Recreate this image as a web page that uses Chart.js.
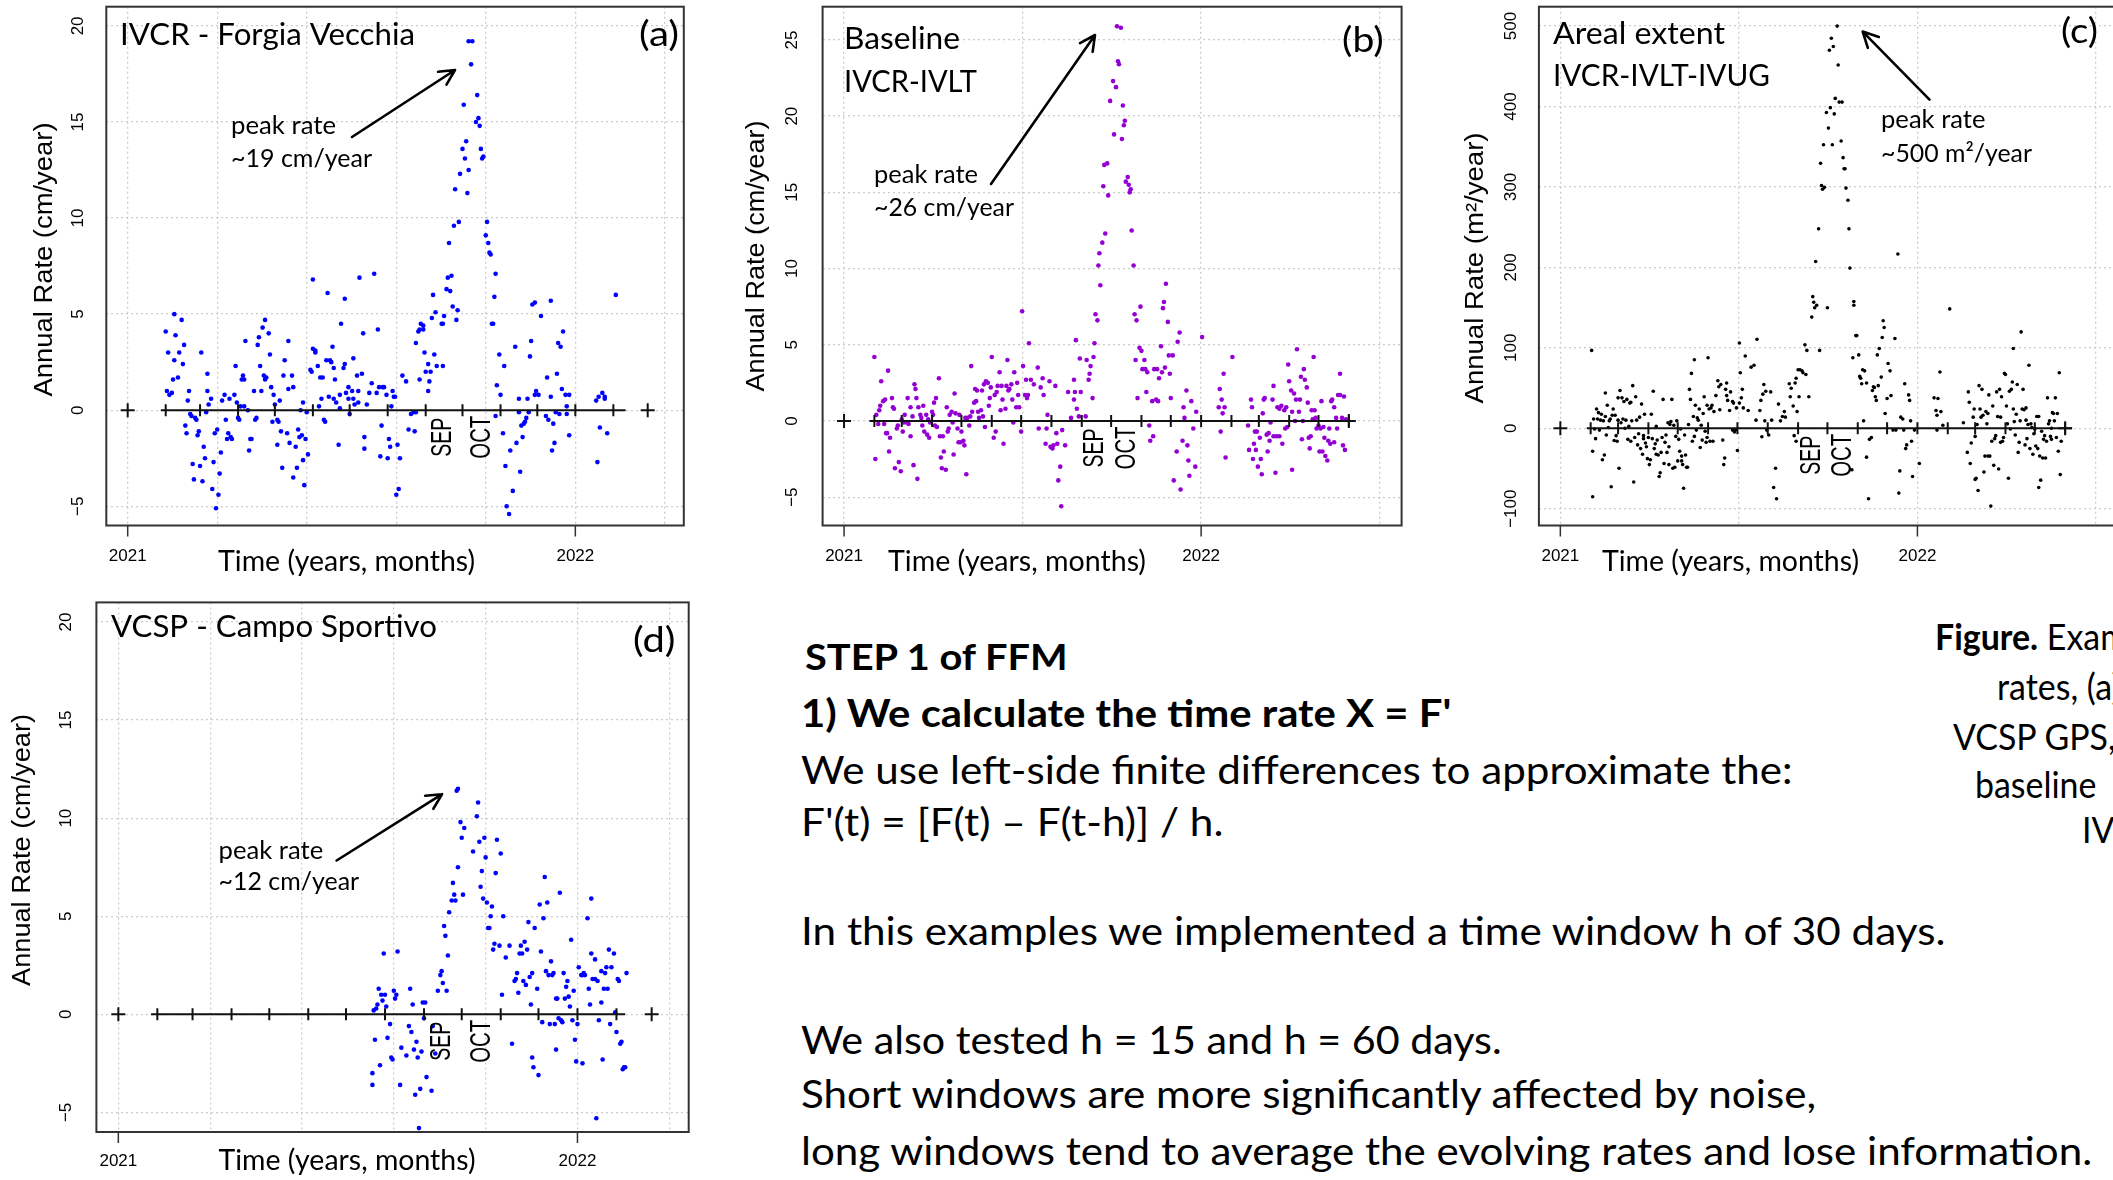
<!DOCTYPE html>
<html>
<head>
<meta charset="utf-8">
<script src="https://cdn.jsdelivr.net/npm/chart.js@4.4.1/dist/chart.umd.min.js"></script>
<style>
  html, body { margin: 0; padding: 0; background: #fff; }
  body { position: relative; width: 2113px; height: 1180px; overflow: hidden; }
  canvas { position: absolute; }
  .t { position: absolute; white-space: nowrap; font-family: Lato, "Open Sans", sans-serif; font-size: 38px; line-height: 1.2; color: #000; transform-origin: 0 0; }
  .cap { font-size: 37px; }
  .b { font-weight: bold; }
  .bl { display: inline-block; width: 0; height: 0; }
</style>
</head>
<body>
<canvas id="pa" width="720" height="590" style="left:0px;top:0px"></canvas>
<canvas id="pb" width="720" height="590" style="left:720px;top:0px"></canvas>
<canvas id="pc" width="690" height="590" style="left:1440px;top:0px"></canvas>
<canvas id="pd" width="720" height="590" style="left:0px;top:590px"></canvas>

<div class="t b" data-x="804.5" data-b="670" data-w="263" style="font-size:36px">STEP 1 of FFM</div>
<div class="t b" data-x="800.5" data-b="727" data-w="650">1) We calculate the time rate X = F'</div>
<div class="t" data-x="800.5" data-b="784" data-w="992">We use left-side finite differences to approximate the:</div>
<div class="t" data-x="800.5" data-b="836" data-w="423">F'(t) = [F(t) – F(t-h)] / h.</div>
<div class="t" data-x="800.5" data-b="945" data-w="1144">In this examples we implemented a time window h of 30 days.</div>
<div class="t" data-x="800.5" data-b="1054" data-w="701">We also tested h = 15 and h = 60 days.</div>
<div class="t" data-x="800.5" data-b="1108" data-w="1015">Short windows are more significantly affected by noise,</div>
<div class="t" data-x="800.5" data-b="1165" data-w="1291">long windows tend to average the evolving rates and lose information.</div>

<div class="t cap" data-x="1935" data-b="650"><b>Figure.</b> Examples</div>
<div class="t cap" data-x="1997" data-b="700">rates, (a)</div>
<div class="t cap" data-x="1953" data-b="750">VCSP GPS,</div>
<div class="t cap" id="capref" data-x="1975" data-b="798" data-w="121">baseline</div>
<div class="t cap" data-x="2082" data-b="843">IVCR</div>

<script>
// time axis: days since 2021-01-01
const monthStarts = [31, 59, 90, 120, 151, 181, 212, 243, 273, 304, 334, 365, 396, 424, 455, 485, 516];
const yearTicks = [0, 365];
const yearLabels = ['2021', '2022'];
const monthNames = ['SEP', 'OCT'];
const monthMidDays = [257, 289];

// (a) IVCR - Forgia Vecchia, cm/year
const ivcrDays = [
  31,33,32,34,36,37,38,39,38,41, 42,44,45,46,47,48,49,50,51,52,
  53,54,55,56,57,58,59,60,61,62, 63,64,65,65,66,68,69,70,71,72,
  73,74,75,76,77,79,80,81,82,83, 84,85,87,88,89,90,91,92,93,94,
  95,95,96,98,99,100,101,103,104,105, 106,107,108,109,110,111,112,112,113,115,
  116,117,118,119,120,122,122,123,124,125, 126,127,128,130,131,131,132,134,135,135,
  137,138,139,140,141,142,143,143,144,145, 146,147,149,150,151,151,153,153,155,156,
  157,158,159,160,161,162,163,164,165,166, 167,168,168,169,170,172,173,173,174,176,
  177,177,178,180,180,181,183,184,184,185, 187,188,188,189,191,192,193,193,195,197,
  199,201,203,204,205,206,207,208,209,211, 212,213,214,215,216,217,218,219,220,221,
  222,224,227,229,231,233,234,235,235,237, 238,238,239,241,241,242,243,245,245,246,
  247,248,249,250,251,252,256,257,257,258, 260,261,262,263,264,265,266,267,268,269,
  270,271,273,274,275,276,277,278,278,280, 281,284,285,286,287,288,289,290,292,293,
  294,295,296,297,298,299,300,300,301,303, 304,306,307,308,309,311,312,314,316,317,
  319,319,320,321,322,323,324,325,326,327, 328,329,330,332,332,333,335,337,341,342,
  343,345,345,346,347,348,349,350,351,352, 353,354,355,357,358,358,360,360,382,383,
  384,385,387,389,391,389,398
];
const ivcrRate = [
  4.1,3.0,1.0,0.8,0.9,1.6,5.0,3.9,2.6,1.7, 3.0,4.7,2.4,3.4,-0.8,-1.2,0.5,1.0,-0.2,-0.3,
  -2.8,-3.6,-0.4,-0.5,-1.3,-1.1,-2.9,3.0,-3.7,-1.9, -2.5,-0.1,1.0,1.9,0.3,0.6,-4.1,-2.7,-1.2,-5.1,
  -1.0,-4.4,-3.3,-2.2,0.5,0.8,-0.5,-1.5,-1.2,0.6, -1.4,-1.5,0.8,2.3,0.4,-0.4,-0.5,0.2,1.6,1.8,
  0.2,1.6,3.6,0.0,-2.1,-1.5,-1.5,1.0,-0.5,-0.4, 3.4,3.8,2.3,1.0,4.3,1.8,4.7,1.6,1.7,4.0,
  2.9,1.2,-0.6,0.8,0.3,-1.8,-0.5,-0.6,0.5,-1.1, -3.0,1.8,2.6,-1.2,1.1,3.6,-1.7,1.8,1.2,-3.5,
  -1.9,-3.0,-1.0,-1.4,0.0,-1.3,-2.6,0.4,-3.9,-1.5, -0.1,-2.3,2.1,2.0,3.2,6.8,3.1,3.0,2.3,0.2,
  1.7,0.6,1.7,-0.5,-0.6,2.6,6.1,0.7,2.6,2.5, 3.3,2.2,0.6,1.6,0.4,-1.8,0.8,0.1,4.5,2.2,
  2.4,5.8,0.9,1.2,0.6,-0.2,1.0,2.7,0.6,0.3, 1.8,0.4,1.0,6.9,1.9,4.0,-2.0,-1.4,0.3,0.9,
  1.4,7.1,0.9,4.2,1.2,-2.4,-0.8,1.2,1.2,0.8, -2.5,-1.5,-1.9,0.2,1.0,0.7,0.7,-4.4,-1.8,-4.1,
  -2.5,1.8,1.5,-1.0,-0.2,-0.1,-1.1,-0.1,3.5,4.1, 1.6,4.2,4.5,4.4,4.2,3.0,2.0,1.0,2.4,1.5,
  2.0,4.8,6.0,2.9,5.1,2.3,4.5,2.3,4.5,4.9, 6.3,6.9,8.7,6.2,7.0,5.4,9.6,11.5,4.7,5.2,
  9.8,12.3,13.6,15.9,13.1,14.0,11.3,12.5,19.2,18.0, 19.2,15.0,16.4,15.2,14.8,13.6,13.1,13.2,9.1,9.8,
  8.7,8.2,8.1,4.5,4.5,5.9,7.1,-0.3,1.3,2.9, 0.8,-1.2,2.3,-2.9,-5.0,-5.4,-2.1,-4.2,3.3,-1.7,
  0.6,-0.1,-3.2,-0.8,-1.4,-0.7,-0.6,-0.4,0.6,-0.1, 2.8,3.6,5.5,5.6,0.8,1.0,0.8,4.9,-0.3,1.7,
  -0.5,5.7,0.7,-2.1,-0.7,-1.7,-0.1,1.9,3.5,-0.2, 3.3,1.1,4.1,0.8,0.2,-0.2,-1.3,0.8,0.5,-2.7,
  0.7,-0.9,0.9,0.7,-1.2,0.6,6.0
];

// (b) baseline IVCR-IVLT, cm/year
const baseDays = [
  31,32,33,35,36,37,38,40,41,42, 43,44,45,46,47,49,50,51,52,54,
  55,56,58,59,60,61,62,64,65,66, 68,68,70,71,72,73,74,75,76,78,
  79,80,81,82,84,85,86,87,88,90, 91,92,93,94,95,97,98,99,100,101,
  102,104,105,106,107,108,110,111,112,113, 114,116,117,118,119,120,122,123,124,125,
  126,128,129,130,131,133,134,135,136,137, 138,140,141,142,143,144,145,147,148,149,
  150,151,153,154,155,156,157,159,160,161, 162,163,165,166,167,168,169,171,172,173,
  174,176,177,178,179,181,182,183,185,186, 187,188,189,191,194,198,199,201,203,204,
  206,207,208,210,211,213,214,216,217,218, 219,221,222,223,226,229,232,235,235,236,
  237,238,240,241,242,247,248,250,251,252, 254,255,256,257,259,260,261,262,264,265,
  266,267,269,270,272,275,276,278,279,280, 281,283,284,285,286,287,288,290,291,292,
  293,294,296,297,298,299,300,302,303,304, 305,307,308,309,310,312,313,315,316,317,
  319,320,321,322,324,325,326,327,328,329, 331,332,333,334,336,337,340,341,343,344,
  346,347,348,350,351,352,353,355,357,359, 360,366,383,384,385,386,387,388,389,390,
  397,413,414,416,417,418,419,420,421,422, 423,425,426,427,428,429,430,432,433,434,
  435,436,438,439,439,441,442,443,445,445, 447,448,450,451,452,453,454,455,457,458,
  458,460,461,462,463,465,466,467,468,469, 470,471,473,474,475,476,477,478,479,480,
  481,482,483,485,486,487,488,489,490,491, 492,494,495,496,497,498,499,501,501,503,
  504,505,507,507,509,510,511,512,513
];
const baseRate = [
  4.2,-2.5,0.4,-0.2,0.7,1.0,2.6,1.3,-0.2,1.4, -0.8,-0.8,3.3,-2.0,-1.1,1.5,0.9,0.8,-3.1,-0.5,
  -0.3,-2.7,-3.3,0.1,-0.7,-0.1,0.4,-0.1,1.5,-0.2, 0.9,-1.0,0.3,-2.9,2.4,2.1,1.5,-3.8,0.9,0.4,
  0.2,-0.3,1.0,-0.7,0.4,-0.9,0.1,-1.1,-0.1,0.6, 0.4,1.2,-0.3,1.5,-0.4,2.8,-1.0,-2.4,-3.1,-1.0,
  -2.0,-3.2,0.9,-0.7,-0.5,0.4,0.6,-0.1,-2.2,1.8, 0.5,-0.5,-1.4,0.4,-1.4,-0.7,-1.3,-1.6,0.2,-3.5,
  0.2,-0.3,0.3,3.6,0.6,1.2,2.1,1.3,2.0,0.6, 0.2,0.7,2.0,0.3,2.4,-0.4,2.6,2.5,1.0,1.5,
  2.2,4.2,-1.1,1.7,-0.7,1.9,2.3,3.2,0.7,2.3, 1.4,-1.5,0.8,2.3,4.0,2.0,2.1,2.4,1.4,-0.1,
  3.2,0.9,2.5,1.7,0.9,-0.7,7.2,3.6,1.7,2.7, 1.5,1.7,5.1,2.7,2.4,3.5,-0.5,2.2,2.8,1.7,
  -1.5,-0.5,0.4,2.6,-1.7,-1.8,-1.6,2.3,-0.8,-1.5, -3.9,-3.0,-5.6,-0.6,-1.6,1.9,0.2,2.7,1.4,1.9,
  5.3,0.8,0.3,4.1,1.9,0.3,4.0,2.7,3.1,3.6, 1.5,4.2,5.1,7.0,6.6,10.2,11.0,8.9,11.7,15.4,
  16.8,12.3,16.9,14.8,21.0,22.3,18.8,21.9,25.9,23.6, 23.4,25.8,18.5,20.7,19.4,19.7,15.7,16.0,15.5,15.0,
  15.2,12.5,10.2,7.0,4.0,6.6,1.5,4.8,7.5,4.6, 3.4,4.0,3.4,1.9,3.2,-0.3,-1.3,1.3,-1.0,3.4,
  1.4,3.4,1.3,2.8,4.9,3.2,7.4,7.8,3.5,9.0, 6.5,4.3,3.1,1.5,4.3,-3.9,-2.0,5.2,5.8,-4.5,
  -1.3,0.9,0.2,2.0,-1.6,-2.6,-3.6,1.3,-0.5,-3.0, 0.6,5.5,0.9,2.1,-0.7,1.4,0.5,3.1,0.9,-2.4,
  4.2,-0.3,-1.9,1.4,0.9,-2.5,-1.5,-0.7,-1.9,-0.7, -3.0,-1.1,-2.5,-3.5,0.5,1.4,1.5,-0.9,-2.0,-0.8,
  -1.3,-0.1,1.4,2.3,-1.0,-3.4,-1.0,0.9,-1.0,0.8, 1.0,-1.5,0.7,-0.5,0.9,-0.4,3.7,2.6,2.0,-3.2,
  0.6,1.8,0.0,1.4,4.7,0.6,1.4,2.9,-1.2,0.0, 3.4,2.7,2.2,1.2,-1.1,-1.8,-1.0,0.7,0.1,4.2,
  0.7,0.2,-0.5,-0.3,-2.0,-0.5,1.3,-2.0,-0.4,-1.1, -2.3,-2.6,-1.3,-0.5,-1.5,1.3,1.4,-1.4,0.9,0.2,
  -0.5,1.7,3.1,1.7,0.2,-1.6,1.6,-1.9,0.1
];

// (c) areal extent IVCR-IVLT-IVUG, m2/year
const areaDays = [
  32,33,33,34,35,36,37,38,39,40, 41,42,43,44,45,46,46,47,48,49,
  50,51,52,53,54,55,56,57,58,59, 59,60,61,62,63,64,65,66,67,68,
  69,70,71,72,72,73,74,75,76,77, 78,79,80,81,82,83,84,85,85,86,
  87,88,89,90,91,92,93,94,95,96, 97,98,98,99,100,101,102,103,104,105,
  106,107,108,109,110,111,111,112,113,114, 115,116,117,118,119,120,121,122,123,124,
  124,125,126,127,128,129,130,131,132,133, 134,135,136,137,137,138,139,140,141,142,
  143,144,145,146,147,148,149,150,150,151, 152,153,154,155,156,157,159,161,162,163,
  164,166,167,168,169,170,170,171,173,174, 176,176,177,178,179,180,181,183,183,184,
  185,186,187,189,192,195,198,200,201,204, 205,206,207,208,209,210,211,213,215,216,
  218,220,221,223,225,227,229,230,234,235, 236,238,239,240,241,241,242,243,244,245,
  247,248,250,251,252,254,257,258,259,260, 261,262,264,265,266,267,268,269,270,272,
  273,274,275,276,277,278,279,280,281,283, 284,285,287,288,289,290,291,292,294,295,
  296,298,299,300,300,302,303,305,306,307, 308,309,310,311,313,313,315,316,318,319,
  320,321,322,323,324,325,326,328,329,330, 331,332,334,335,337,338,340,342,343,345,
  346,347,348,350,351,352,353,354,356,357, 358,359,360,362,367,382,384,385,385,386,
  388,389,391,398,412,416,417,418,419,420, 422,423,424,424,425,426,427,428,429,430,
  431,432,433,434,435,436,437,437,438,439, 440,441,442,443,444,445,446,447,448,449,
  450,450,451,452,453,454,455,456,457,458, 459,460,461,462,463,463,464,465,466,467,
  468,469,470,471,472,473,474,475,476,476, 477,478,479,480,481,482,483,484,485,486,
  487,488,489,489,490,491,492,493,494,495, 496,497,498,499,500,501,502,502,503,504,
  505,506,507,508,509,510,511,512
];
const areaRate = [
  96.8,-85.2,-28.6,11.5,-0.9,-12.9,24.0,11.5,19.4,-2.3, 10.1,17.5,-39.2,9.2,-33.2,43.8,14.7,-8.3,28.6,0.9,
  9.2,11.5,-72.8,16.1,24.0,-15.2,16.1,-9.2,-16.1,10.1, 37.8,-49.8,47.0,6.9,37.8,11.5,33.2,0.0,10.1,35.9,
  -13.8,2.3,31.3,-16.1,32.3,9.2,53.0,-66.8,-11.5,39.2, 10.1,-20.7,-6.9,13.8,-25.3,30.0,-32.3,-12.9,-9.2,17.5,
  -18.4,-23.0,-37.8,-11.5,-45.2,-39.2,17.5,-12.9,46.1,-25.3, -19.4,-32.3,2.3,-14.7,-33.2,-59.9,-55.3,-30.0,-11.5,35.9,
  -43.8,-17.5,-8.3,-30.0,6.9,-23.0,-45.2,4.6,8.3,35.9, -49.8,3.7,-48.4,-10.1,9.2,-40.6,-13.8,-28.6,-0.9,-34.6,
  -40.6,-45.2,-74.6,-8.3,-33.2,-48.4,-48.4,4.6,48.4,35.9, 68.2,-16.1,14.7,-10.1,85.2,28.6,-2.3,12.9,10.1,24.0,
  -24.0,3.7,-14.7,18.4,39.2,-3.7,-17.5,-11.5,28.6,87.6, 24.0,-16.1,25.3,28.6,-16.1,20.7,40.6,59.0,51.6,23.0,
  54.4,-14.7,-45.2,-36.9,48.4,56.2,40.6,34.6,22.1,45.2, 33.2,-2.3,31.3,-4.6,-2.3,25.3,-27.6,31.3,106.0,69.1,
  37.8,48.4,25.3,89.9,22.1,76.0,78.3,10.1,110.6,22.1, 34.6,-10.6,42.4,54.4,9.2,46.1,-2.3,-8.3,45.2,10.1,
  -73.7,-49.8,-87.6,30.0,9.2,14.7,20.7,13.8,55.3,39.2, 49.8,27.6,-9.2,56.2,62.2,-16.1,20.7,72.8,39.2,72.8,
  71.4,69.1,103.7,66.8,96.8,39.2,138.2,163.6,156.7,149.8, 207.4,153.0,247.9,96.8,329.5,301.8,297.2,352.5,299.5,392.6,
  149.8,373.2,470.0,398.6,484.8,352.5,474.6,390.8,410.1,500.0, 451.6,405.5,357.1,405.5,336.4,322.6,322.6,298.6,283.4,247.9,
  199.1,-51.6,87.6,157.6,153.0,115.2,115.2,91.2,64.5,62.2, 55.3,72.8,9.2,71.4,56.2,-35.9,-87.6,-13.8,-11.5,47.0,
  51.6,50.7,39.2,34.6,91.2,53.0,99.1,63.6,112.9,133.6, 125.3,18.4,36.9,80.6,71.4,40.6,-2.3,111.5,-2.3,216.6,
  -80.6,-53.0,13.8,11.5,-2.3,55.3,-25.3,-20.7,41.5,34.6, 9.2,-16.1,-59.9,-2.3,-43.8,37.8,22.1,-2.3,16.1,36.9,
  70.0,20.7,3.7,148.4,6.9,-30.0,45.2,32.3,-43.8,-18.4, 13.8,24.0,-63.6,-10.1,-62.2,4.6,-77.4,53.0,24.0,13.8,
  48.4,16.1,-54.4,-34.6,20.7,5.5,-34.6,18.4,41.5,-34.6, -96.8,-16.1,27.6,-46.1,-12.9,-9.2,45.2,14.7,-50.7,48.4,
  -17.5,13.8,39.2,-16.1,-11.5,68.2,66.8,27.6,5.5,-62.2, 46.1,-0.9,48.4,57.6,24.0,99.1,8.3,-8.3,17.5,54.4,
  -30.0,-17.5,9.2,119.8,24.0,48.4,23.0,-20.7,25.3,10.1, -12.9,4.6,78.3,-25.3,5.5,0.9,-32.3,-6.9,-0.9,-22.1,
  14.7,-25.3,-73.7,14.7,-34.6,-64.5,-3.7,-36.9,-13.8,-9.2, -36.9,-16.1,37.8,5.5,9.2,-10.1,-13.8,0.0,19.4,18.4,
  9.2,37.8,-11.5,18.4,-28.6,69.1,-57.6,-16.1
];

// (d) VCSP - Campo Sportivo, cm/year
const vcspDays = [
  202,202,203,204,205,206,207,208,209,210, 211,212,213,214,216,217,218,219,220,221,
  222,224,225,229,231,232,233,234,235,236, 237,238,239,240,241,242,243,244,245,249,
  250,252,254,256,257,258,259,260,261,262, 263,265,266,267,268,269,270,270,272,273,
  274,275,282,285,286,287,288,289,290,291, 292,293,294,295,296,297,298,299,300,301,
  303,304,305,306,308,311,313,315,316,317, 318,319,320,321,322,323,324,325,326,327,
  328,329,329,330,331,333,334,335,336,337, 338,339,340,341,342,343,344,345,346,347,
  348,348,349,350,351,352,353,354,355,356, 357,358,359,360,361,362,363,364,365,366,
  368,369,369,370,371,373,374,375,376,376, 377,379,379,380,381,382,384,384,385,386,
  387,388,389,390,391,392,394,395,396,397, 398,399,400,401,402,403,404
];
const vcspRate = [
  -3.6,-3.0,0.2,-1.3,0.3,0.5,1.3,-2.6,1.0,0.7, 3.1,1.0,0.4,-1.2,-0.5,-2.2,-2.3,1.2,0.8,1.0,
  3.2,-3.6,-1.7,-2.1,-0.6,1.3,-0.9,0.5,-1.8,-4.1, -1.4,-2.2,-5.8,-3.8,-1.9,0.6,-0.2,0.6,-3.2,-3.9,
  -0.6,-2.0,1.2,2.0,2.2,1.6,4.5,4.0,1.2,3.0, 5.2,5.8,6.7,6.1,5.8,11.4,11.5,7.5,9.8,9.0,
  6.1,9.5,8.3,10.1,10.8,8.8,6.5,7.3,5.9,9.0, 8.0,5.7,4.4,4.4,5.0,5.5,3.3,3.6,7.2,8.9,
  3.5,8.2,1.0,5.0,2.9,3.5,-1.5,1.7,1.8,2.1, 1.1,3.1,3.5,3.1,1.7,3.7,1.5,3.3,4.7,1.9,
  0.5,2.1,-2.2,-2.7,4.4,1.3,-3.1,5.6,3.2,-0.4, 4.9,7.0,2.2,5.7,2.0,-0.5,2.7,2.0,2.1,-0.5,
  -1.8,0.8,0.8,-0.2,6.2,-0.3,-0.4,2.1,0.8,1.4, 1.7,0.9,0.4,3.8,-0.3,1.2,-1.3,-2.4,-0.5,2.4,
  2.0,-2.5,2.0,2.1,2.0,4.9,1.3,0.5,3.1,5.9, 1.8,2.8,1.8,-5.3,1.7,-0.3,2.2,0.6,-2.3,1.3,
  2.1,2.4,1.3,3.3,-0.5,2.4,3.1,0.1,-0.9,1.8, 1.7,-1.5,-1.4,-2.8,-2.7,-2.7,2.1
];

const panels = [
  { canvas: 'pa', days: ivcrDays, rate: ivcrRate, color: '#0000ff', r: 2.3,
    left: 0, top: 0, box: [106.3, 6.7, 683.8, 525.5], w: 720, h: 590,
    xMin: -17.44, xMax: 453.44, yMin: -6, yMax: 21,
    yTicks: [-5, 0, 5, 10, 15, 20], xGrid: [0, 73, 146, 219, 292, 365, 438],
    axisLine: [27, 406], monthTicks: monthStarts.slice(0, 13), plus: [0, 424],
    titles: [['IVCR - Forgia Vecchia', 120, 45, 295]], letter: ['(a)', 639, 46, 40],
    peak: [['peak rate', 231, 134, 105], ['~19 cm/year', 231, 167, 141]], arrow: [352, 137, 455, 70],
    ylab: ['Annual Rate (cm/year)', 45, 259.5, 274], ytickX: 78, xlab: [346.6, 571, 257], yearY: 556 },
  { canvas: 'pb', days: baseDays, rate: baseRate, color: '#9400d3', r: 2.3,
    left: 720, top: 0, box: [822.6, 6.7, 1401.6, 525.5], w: 720, h: 590,
    xMin: -21.92, xMax: 569.92, yMin: -6.86, yMax: 27.18,
    yTicks: [-5, 0, 5, 10, 15, 20, 25], xGrid: [0, 182.5, 365, 547.5],
    axisLine: [26, 522], monthTicks: monthStarts, plus: [0, 516],
    titles: [['Baseline', 844, 48.7, 116], ['IVCR-IVLT', 844, 91.5, 133]], letter: ['(b)', 1342, 51.7, 41.6],
    peak: [['peak rate', 874, 183, 104], ['~26 cm/year', 874, 216, 140]], arrow: [991, 184, 1095, 35],
    ylab: ['Annual Rate (cm/year)', 756.5, 256, 271], ytickX: 792.8, xlab: [1017, 571, 258], yearY: 556 },
  { canvas: 'pc', days: areaDays, rate: areaRate, color: '#000000', r: 1.8,
    left: 1440, top: 0, box: [1538.9, 6.7, 2117.9, 525.5], w: 690, h: 590,
    xMin: -21.92, xMax: 569.92, yMin: -120.9, yMax: 524.1,
    yTicks: [-100, 0, 100, 200, 300, 400, 500], xGrid: [0, 182.5, 365, 547.5],
    axisLine: [27, 523], monthTicks: monthStarts, plus: [0, 516],
    titles: [['Areal extent', 1553, 43.9, 172], ['IVCR-IVLT-IVUG', 1553, 86, 217]], letter: ['(c)', 2061, 43, 37],
    peak: [['peak rate', 1881, 128, 104.5], ['~500 m\u00b2/year', 1881, 161.7, 151]], arrow: [1929.5, 99.6, 1862.7, 31.6],
    ylab: ['Annual Rate (m\u00b2/year)', 1476, 268, 271], ytickX: 1511.4, xlab: [1730.5, 571, 257], yearY: 556 },
  { canvas: 'pd', days: vcspDays, rate: vcspRate, color: '#0000ff', r: 2.3,
    left: 0, top: 590, box: [96.4, 602.4, 688.7, 1132], w: 720, h: 590,
    xMin: -17.44, xMax: 453.44, yMin: -6, yMax: 21,
    yTicks: [-5, 0, 5, 10, 15, 20], xGrid: [0, 73, 146, 219, 292, 365, 438],
    axisLine: [26, 403], monthTicks: monthStarts.slice(0, 13), plus: [0, 424],
    titles: [['VCSP - Campo Sportivo', 111, 636.8, 326]], letter: ['(d)', 633, 652, 42.5],
    peak: [['peak rate', 218.6, 859, 104.6], ['~12 cm/year', 218.6, 889.7, 140.5]], arrow: [336.6, 860.5, 442.1, 794.2],
    ylab: ['Annual Rate (cm/year)', 22.5, 850, 272], ytickX: 66, xlab: [347, 1170, 257], yearY: 1161 }
];

// draw text, optionally squeezed/stretched to a given length along its direction
function putText(ctx, s, x, y, o) {
  ctx.save();
  ctx.font = o.font;
  ctx.fillStyle = '#000';
  ctx.textBaseline = o.base || 'alphabetic';
  ctx.textAlign = 'left';
  ctx.translate(x, y);
  if (o.rot) ctx.rotate(o.rot);
  const mw = ctx.measureText(s).width;
  if (o.w) ctx.scale(o.w / mw, 1);
  ctx.fillText(s, o.align === 'center' ? -mw / 2 : 0, 0);
  ctx.restore();
}

function arrow(ctx, x1, y1, x2, y2) {
  const a = Math.atan2(y2 - y1, x2 - x1), L = 17, h = 0.47;
  ctx.save();
  ctx.strokeStyle = '#000';
  ctx.lineWidth = 2.6;
  ctx.lineCap = 'round';
  ctx.lineJoin = 'round';
  ctx.beginPath();
  ctx.moveTo(x1, y1);
  ctx.lineTo(x2, y2);
  ctx.moveTo(x2 - L * Math.cos(a - h), y2 - L * Math.sin(a - h));
  ctx.lineTo(x2, y2);
  ctx.lineTo(x2 - L * Math.cos(a + h), y2 - L * Math.sin(a + h));
  ctx.stroke();
  ctx.restore();
}

function decoPlugin(p) {
  return {
    id: 'deco' + p.canvas,
    afterDatasetsDraw(chart) {
      const ctx = chart.ctx, area = chart.chartArea;
      const xs = chart.scales.x, ys = chart.scales.y;
      const px = v => p.left + xs.getPixelForValue(v);
      const py = v => p.top + ys.getPixelForValue(v);
      ctx.save();
      ctx.translate(-p.left, -p.top);

      // plot frame
      ctx.strokeStyle = '#333';
      ctx.lineWidth = 2;
      ctx.strokeRect(p.left + area.left, p.top + area.top, area.right - area.left, area.bottom - area.top);

      // year ticks and labels
      const bottom = p.top + area.bottom;
      ctx.beginPath();
      yearTicks.forEach(v => { ctx.moveTo(px(v), bottom); ctx.lineTo(px(v), bottom + 11); });
      ctx.lineWidth = 1.5;
      ctx.stroke();
      yearTicks.forEach((v, i) => putText(ctx, yearLabels[i], px(v), p.yearY,
        { font: '17px "Liberation Sans", Arial, sans-serif', base: 'middle', align: 'center' }));

      // y tick labels, rotated like R
      p.yTicks.forEach(v => putText(ctx, String(v).replace('-', '\u2212'), p.ytickX, py(v),
        { font: '17px "Liberation Sans", Arial, sans-serif', base: 'middle', align: 'center', rot: -Math.PI / 2 }));

      // month names under the zero line
      monthNames.forEach((m, i) => putText(ctx, m, px(monthMidDays[i]), py(0) + 27,
        { font: '29px "Liberation Sans", Arial, sans-serif', base: 'middle', align: 'center', rot: -Math.PI / 2, w: m === 'SEP' ? 39 : 43 }));

      // titles and annotations
      p.titles.forEach(t => putText(ctx, t[0], t[1], t[2], { font: '31px Lato, sans-serif', w: t[3] }));
      putText(ctx, p.letter[0], p.letter[1], p.letter[2], { font: '35px Lato, sans-serif', w: p.letter[3] });
      p.peak.forEach(t => putText(ctx, t[0], t[1], t[2], { font: '25px Lato, sans-serif', w: t[3] }));
      arrow(ctx, ...p.arrow);

      // axis titles
      putText(ctx, p.ylab[0], p.ylab[1], p.ylab[2],
        { font: '26px "Liberation Sans", Arial, sans-serif', base: 'middle', align: 'center', rot: -Math.PI / 2, w: p.ylab[3] });
      putText(ctx, 'Time (years, months)', p.xlab[0], p.xlab[1],
        { font: '29px Lato, sans-serif', align: 'center', w: p.xlab[2] });
      ctx.restore();
    }
  };
}

panels.forEach(p => {
  const zero = d => ({ x: d, y: 0 });
  new Chart(document.getElementById(p.canvas), {
    type: 'scatter',
    data: {
      datasets: [
        { data: p.days.map((d, i) => ({ x: d, y: p.rate[i] })), pointBackgroundColor: p.color,
          pointBorderWidth: 0, pointRadius: p.r, order: 3 },
        { data: p.axisLine.map(zero), showLine: true, borderColor: '#111', borderWidth: 2,
          pointRadius: 0, order: 2 },
        { data: p.monthTicks.map(zero), pointStyle: 'line', rotation: 90, pointRadius: 6,
          pointBorderColor: '#111', pointBorderWidth: 2, order: 1 },
        { data: p.plus.map(zero), pointStyle: 'cross', pointRadius: 7,
          pointBorderColor: '#111', pointBorderWidth: 2, order: 1 }
      ]
    },
    options: {
      responsive: false,
      animation: false,
      devicePixelRatio: 1,
      events: [],
      layout: {
        autoPadding: false,
        padding: { left: p.box[0] - p.left, top: p.box[1] - p.top, right: p.left + p.w - p.box[2], bottom: p.top + p.h - p.box[3] }
      },
      plugins: { legend: { display: false }, tooltip: { enabled: false } },
      scales: {
        x: {
          type: 'linear', min: p.xMin, max: p.xMax,
          afterBuildTicks: s => { s.ticks = p.xGrid.map(v => ({ value: v })); },
          ticks: { display: false },
          grid: { color: '#cccccc', lineWidth: 1.3, drawTicks: false },
          border: { display: false, dash: [2, 3] }
        },
        y: {
          type: 'linear', min: p.yMin, max: p.yMax,
          afterBuildTicks: s => { s.ticks = p.yTicks.map(v => ({ value: v })); },
          ticks: { display: false },
          grid: { color: '#cccccc', lineWidth: 1.3, drawTicks: false },
          border: { display: false, dash: [2, 3] }
        }
      }
    },
    plugins: [decoPlugin(p)]
  });
});

// place the html text block on its baselines and fit line widths
function placeTexts() {
  let capScale = 1;
  document.querySelectorAll('.t').forEach(el => {
    el.style.left = el.dataset.x + 'px';
    const m = document.createElement('span');
    m.className = 'bl';
    el.appendChild(m);
    el.style.top = (el.dataset.b - m.offsetTop) + 'px';
    if (el.dataset.w) {
      const s = el.dataset.w / el.offsetWidth;
      el.style.transform = 'scaleX(' + s + ')';
      if (el.id === 'capref') capScale = s;
    }
  });
  document.querySelectorAll('.cap').forEach(el => { el.style.transform = 'scaleX(' + capScale + ')'; });
}
placeTexts();
</script>
</body>
</html>
